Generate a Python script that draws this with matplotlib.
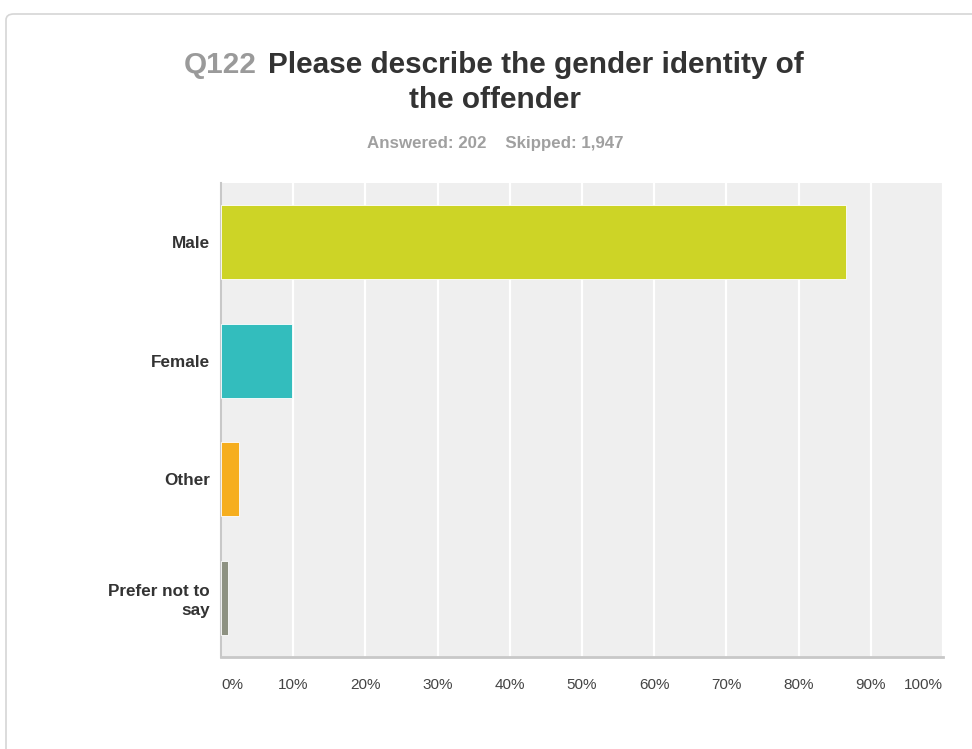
import matplotlib.pyplot as plt
from matplotlib.patches import FancyBboxPatch

categories = ["Male", "Female", "Other", "Prefer not to\nsay"]
percents = [86.63, 9.90, 2.48, 0.99]
colors = ["#cdd426", "#33bdbd", "#f6ae1e", "#8e9282"]
tick_vals = [0, 10, 20, 30, 40, 50, 60, 70, 80, 90, 100]
tick_labels = [f"{v}%" for v in tick_vals]
answered = 202
skipped = "1,947"

plt.rcParams['font.family'] = ['Liberation Sans', 'DejaVu Sans']

W, H = 972, 749
fig = plt.figure(figsize=(W / 100, H / 100), dpi=100)
fig.patch.set_facecolor("white")

# card outline behind everything
card = FancyBboxPatch((6 / W, -0.05), 1.2, 1 - 14 / H + 0.05,
                      boxstyle="round,pad=0,rounding_size=0.008",
                      transform=fig.transFigure, facecolor="none",
                      edgecolor="#d6d6d6", linewidth=1.2, zorder=-1)
fig.patches.append(card)

ax = fig.add_axes([221 / W, 1 - 657 / H, (943 - 221) / W, (657 - 183) / H])
ax.set_facecolor("#efefef")

y = list(range(len(categories)))
ax.barh(y, percents, height=0.625, color=colors, edgecolor="white",
        linewidth=0.6, zorder=3)

ax.set_xlim(0, 100)
ax.set_ylim(len(categories) - 0.5, -0.5)
ax.set_xticks(tick_vals)
ax.xaxis.grid(True, color="white", linewidth=1.6, zorder=1)
ax.set_axisbelow(True)
ax.set_yticks(y)
ax.set_yticklabels(categories, fontsize=12.3, fontweight="bold", color="#333333",
                   linespacing=1.35)
ax.tick_params(axis="y", length=0, pad=8)
ax.tick_params(axis="x", length=0, pad=15)
ax.set_xticklabels(tick_labels, fontsize=11, color="#444444")
labels = ax.get_xticklabels()
labels[0].set_horizontalalignment("left")
labels[-1].set_horizontalalignment("right")

for s in ["top", "right"]:
    ax.spines[s].set_visible(False)
ax.spines["left"].set_color("#c8c8c8")
ax.spines["left"].set_linewidth(1.5)
ax.spines["bottom"].set_color("#c8c8c8")
ax.spines["bottom"].set_linewidth(2)

# title in two colours
fig.text(257 / W, 1 - 73 / H, "Q122", fontsize=21.4, fontweight="bold",
         color="#9a9a9a", ha="right", va="baseline")
fig.text(268 / W, 1 - 73 / H, "Please describe the gender identity of",
         fontsize=21.4, fontweight="bold", color="#333333", ha="left",
         va="baseline")
fig.text(495 / W, 1 - 108 / H, "the offender", fontsize=21.4,
         fontweight="bold", color="#333333", ha="center", va="baseline")
fig.text(495 / W, 1 - 148 / H,
         f"Answered: {answered}    Skipped: {skipped}",
         fontsize=12.2, fontweight="bold", color="#a0a0a0", ha="center",
         va="baseline")

fig.savefig("out.png", dpi=100)
